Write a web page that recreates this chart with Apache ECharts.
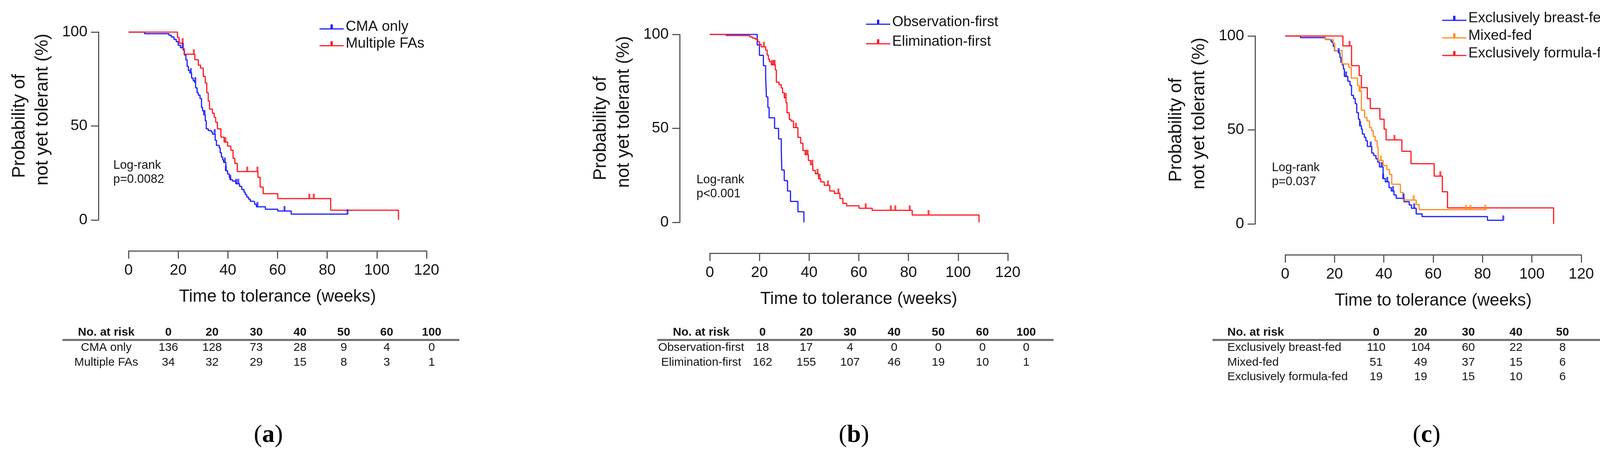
<!DOCTYPE html>
<html lang="en">

<head>
  <meta charset="UTF-8">
  <title>Time to tolerance</title>
  <style>
    html, body { margin: 0; padding: 0; background: #fff; overflow: hidden; }
    #main { width: 4289px; height: 1167px; }
  </style>
</head>

<body>
  <div id="main"></div>

  <script src="https://cdn.jsdelivr.net/npm/echarts@6/dist/echarts.min.js"></script>
  <script>

  // Kaplan-Meier curves: [weeks, % not yet tolerant] at each step
  const cmaOnly = [[0,100],[6.5,99.1],[16.3,98.3],[17.2,97.4],[18.3,96.1],[19.2,94.9],[20.0,93.0],[20.9,91.7],[22.0,90.4],[22.5,87.8],[23.1,85.2],[23.6,81.7],[24.1,79.5],[24.7,78.2],[25.4,75.5],[26.0,74.2],[26.5,73.4],[27.0,70.3],[27.6,67.7],[28.1,66.4],[28.8,64.6],[29.4,59.8],[29.8,58.1],[30.3,55.9],[30.9,52.8],[31.3,48.5],[32.1,47.6],[33.3,46.9],[33.8,45.7],[34.9,42.4],[35.4,39.7],[36.5,38.4],[36.9,35.8],[37.4,33.6],[37.9,31.9],[38.3,30.6],[39.2,26.2],[39.9,24.5],[40.6,22.7],[41.0,21.4],[41.9,20.7],[43.3,19.3],[44.7,17.9],[45.6,16.2],[46.5,14.8],[47.0,13.5],[47.6,12.2],[48.3,11.1],[49.0,10.0],[50.3,9.6],[50.8,8.3],[51.5,7.0],[55.1,5.7],[60.1,4.8],[65.5,3.1],[88.2,3.1]];
  const cmaOnlyCensor = [21.8, 25.1, 26.9, 30.6, 34.7, 38.8, 39.2, 41.0, 43.3, 44.2, 51.9, 62.8, 88.2];

  const multipleFAs = [[0,100],[19.7,97.1],[20.4,94.1],[22.0,91.2],[22.4,88.2],[26.7,85.3],[28.1,82.4],[29.0,80.8],[30.1,76.4],[30.9,72.9],[31.5,67.7],[32.1,63.3],[32.6,59.0],[33.8,56.8],[34.5,54.6],[35.1,52.0],[35.8,48.5],[37.2,44.1],[38.5,41.5],[39.9,39.3],[41.2,37.1],[42.1,32.8],[42.8,30.1],[43.8,25.8],[52.1,22.7],[53.0,17.5],[54.2,14.0],[60.1,11.4],[81.4,5.2],[108.7,5.2],[108.7,0]];
  const multipleFAsCensor = [21.8, 26.3, 39.0, 47.8, 51.9, 72.8, 74.6];

  const obsFirst = [[0,100],[19.1,94.4],[20.0,88.9],[21.6,83.3],[22.5,77.8],[22.8,66.7],[23.4,61.1],[23.9,55.6],[26.1,50.0],[27.7,44.4],[28.8,38.9],[29.0,27.8],[30.0,22.2],[31.3,16.7],[32.5,11.1],[35.5,5.6],[37.9,5.6],[37.9,0]];
  const obsFirstCensor = [];

  const elimFirst = [[0,100],[6.6,99.4],[16.1,98.7],[17.1,98.0],[18.4,97.4],[19.3,96.1],[20.0,94.7],[20.7,93.4],[22.5,91.7],[23.1,89.0],[23.6,86.8],[24.0,85.5],[24.8,83.8],[26.4,81.1],[26.8,74.6],[27.9,73.2],[28.8,71.5],[29.3,68.9],[30.0,66.2],[30.7,63.6],[31.1,58.3],[32.0,54.8],[32.7,53.9],[33.7,50.4],[35.5,45.2],[36.6,42.1],[37.5,38.2],[38.4,36.0],[39.7,32.9],[40.6,30.7],[41.5,27.6],[42.5,25.9],[43.8,23.2],[44.7,21.5],[46.1,19.7],[48.3,16.7],[50.2,15.4],[52.4,12.7],[53.6,10.1],[55.1,8.8],[60.1,7.5],[65.4,6.4],[81.5,3.9],[108.4,3.9],[108.4,0]];
  const elimFirstCensor = [21.8, 25.1, 25.8, 26.1, 30.6, 34.7, 38.9, 39.4, 41.3, 43.4, 44.2, 47.6, 51.8, 62.8, 72.9, 74.7, 80.5, 88.1];

  const breastFed = [[0,100],[6.2,99.1],[16.3,98.2],[18.5,97.3],[19.0,96.4],[19.5,94.5],[20.0,92.1],[21.7,91.0],[22.2,88.6],[22.6,86.0],[23.1,84.6],[23.6,82.5],[24.0,78.5],[25.4,75.9],[26.3,73.7],[26.9,68.4],[27.7,66.7],[28.4,64.0],[29.0,59.2],[29.7,55.7],[30.2,52.2],[30.9,50.4],[31.3,47.8],[32.1,46.1],[32.7,44.3],[33.3,41.2],[35.1,37.7],[35.9,36.4],[36.8,34.6],[37.5,32.9],[38.2,30.3],[39.7,24.1],[40.6,22.4],[42.1,19.3],[43.0,17.5],[44.1,15.4],[45.0,13.6],[48.2,11.8],[50.3,10.1],[51.2,8.3],[53.1,5.3],[55.5,3.9],[82.0,1.9],[88.4,1.9]];
  const breastFedCensor = [21.7, 24.7, 30.4, 34.7, 39.1, 39.7, 41.4, 43.7, 48.0, 52.3, 88.4];

  const mixedFed = [[0,100],[16.3,98.0],[19.5,96.1],[20.1,92.2],[23.1,85.1],[25.8,83.3],[26.8,77.6],[29.3,73.7],[30.0,70.6],[30.9,60.5],[32.2,56.6],[33.2,54.8],[34.2,51.3],[35.0,49.6],[35.7,46.5],[36.5,44.3],[37.3,40.8],[37.7,33.8],[39.7,31.1],[41.2,28.9],[42.3,26.3],[43.2,21.1],[46.7,16.7],[47.8,12.7],[53.1,10.3],[54.3,7.6],[81.6,7.6]];
  const mixedFedCensor = [30.4, 38.8, 52.1, 73.3, 75.1, 81.1];

  const formulaFed = [[0,100],[23.4,94.7],[26.9,84.2],[30.0,78.9],[30.9,72.5],[33.3,66.7],[34.5,61.4],[38.4,55.7],[40.1,50.4],[40.9,44.7],[47.3,38.6],[51.0,32.0],[60.4,25.4],[63.7,17.1],[65.8,8.5],[108.8,8.5],[108.8,0]];
  const formulaFedCensor = [26.1, 44.3, 62.9];

  // numbers at risk
  const riskTimes = [0, 20, 30, 40, 50, 60, 100];
  const riskCmaOnly = [136, 128, 73, 28, 9, 4, 0];
  const riskMultipleFAs = [34, 32, 29, 15, 8, 3, 1];
  const riskObsFirst = [18, 17, 4, 0, 0, 0, 0];
  const riskElimFirst = [162, 155, 107, 46, 19, 10, 1];
  const riskBreastFed = [110, 104, 60, 22, 8, 2, 0];
  const riskMixedFed = [51, 49, 37, 15, 6, 3, 0];
  const riskFormulaFed = [19, 19, 15, 10, 6, 5, 1];

  const logRank = ['p=0.0082', 'p<0.001', 'p=0.037'];
  const captions = ['a', 'b', 'c'];

  const BLUE = '#1f1fff';
  const RED = '#ff1a24';
  const ORANGE = '#ff8c1a';
  const FONT = "'Liberation Sans', Arial, sans-serif";
  const SERIF = "'Liberation Serif', 'Times New Roman', serif";
  const INK = '#141414';
  const AXIS = '#595959';

  const panels = [
    {
      grid: { left: 329, top: 82, width: 763, height: 481 },
      legend: { left: 818, top: 49, gap: 3 },
      log: { x: 290, y: 441 },
      table: { labelX: 272, labelAlign: 'center', cols: [431, 543, 656, 768, 880, 990, 1105], line: [160, 1176] },
      captionX: 687,
      groups: [
        { name: 'CMA only', color: BLUE, curve: cmaOnly, censor: cmaOnlyCensor, risk: riskCmaOnly },
        { name: 'Multiple FAs', color: RED, curve: multipleFAs, censor: multipleFAsCensor, risk: riskMultipleFAs }
      ]
    },
    {
      grid: { left: 1817, top: 88, width: 763, height: 481 },
      legend: { left: 2217, top: 37, gap: 10 },
      log: { x: 1783, y: 478 },
      table: { labelX: 1795, labelAlign: 'center', cols: [1952, 2064, 2176, 2289, 2402, 2515, 2627], line: [1683, 2697] },
      captionX: 2186,
      groups: [
        { name: 'Observation-first', color: BLUE, curve: obsFirst, censor: obsFirstCensor, risk: riskObsFirst },
        { name: 'Elimination-first', color: RED, curve: elimFirst, censor: elimFirstCensor, risk: riskElimFirst }
      ]
    },
    {
      grid: { left: 3290, top: 92, width: 758, height: 481 },
      legend: { left: 3692, top: 27, gap: 5 },
      log: { x: 3256, y: 447 },
      table: { labelX: 3142, labelAlign: 'left', cols: [3523, 3637, 3759, 3881, 4000, 4113, 4219], line: [3104, 4281] },
      captionX: 3652,
      groups: [
        { name: 'Exclusively breast-fed', color: BLUE, curve: breastFed, censor: breastFedCensor, risk: riskBreastFed },
        { name: 'Mixed-fed', color: ORANGE, curve: mixedFed, censor: mixedFedCensor, risk: riskMixedFed },
        { name: 'Exclusively formula-fed', color: RED, curve: formulaFed, censor: formulaFedCensor, risk: riskFormulaFed }
      ]
    }
  ];

  const headerY = 851;
  const ruleY = 870;
  const rowY0 = 890;
  const rowStep = 37.5;
  const captionY = 1114;

  // value of a step curve at time t
  function survAt(curve, t) {
    let s = curve[0][1];
    for (let i = 0; i < curve.length; i++) {
      if (curve[i][0] <= t) s = curve[i][1];
    }
    return s;
  }

  const legendIcon = 'path://M0,10 L62,10 L62,13 L0,13 Z M28,0 L34,0 L34,10 L28,10 Z';

  let grids = [], xAxes = [], yAxes = [], series = [], legends = [], graphics = [];

  panels.forEach((p, i) => {
    grids.push(Object.assign({ containLabel: false }, p.grid));

    xAxes.push({
      gridIndex: i, type: 'value', min: 0, max: 120, interval: 20, offset: 79,
      axisLine: { show: true, onZero: false, lineStyle: { color: AXIS, width: 3 } },
      axisTick: { show: true, length: 20, lineStyle: { color: AXIS, width: 3 } },
      axisLabel: { fontSize: 39, margin: 31, color: INK, fontFamily: FONT },
      splitLine: { show: false },
      name: 'Time to tolerance (weeks)', nameLocation: 'middle', nameGap: 96,
      nameTextStyle: { fontSize: 44, color: INK, fontFamily: FONT }
    });

    yAxes.push({
      gridIndex: i, type: 'value', min: 0, max: 100, interval: 50, offset: 77,
      axisLine: { show: true, onZero: false, lineStyle: { color: AXIS, width: 3 } },
      axisTick: { show: true, length: 19, lineStyle: { color: AXIS, width: 3 } },
      axisLabel: { fontSize: 39, margin: 28, color: INK, fontFamily: FONT },
      splitLine: { show: false }
    });

    p.groups.forEach(g => {
      series.push({
        name: g.name, type: 'line', step: 'end', xAxisIndex: i, yAxisIndex: i,
        data: g.curve, showSymbol: false, symbol: 'none',
        lineStyle: { color: g.color, width: 3 }, itemStyle: { color: g.color }, z: 2
      });
      series.push({
        name: g.name, type: 'scatter', xAxisIndex: i, yAxisIndex: i,
        data: g.censor.map(t => [t, survAt(g.curve, t)]),
        symbol: 'rect', symbolSize: [5, 13], symbolOffset: [0, -6],
        itemStyle: { color: g.color }, z: 3
      });
    });

    legends.push({
      left: p.legend.left, top: p.legend.top, orient: 'vertical', padding: 0,
      icon: legendIcon, itemWidth: 62, itemHeight: 13, itemGap: p.legend.gap,
      selectedMode: false,
      data: p.groups.map(g => g.name),
      textStyle: { fontSize: 37, lineHeight: 40, color: INK, fontFamily: FONT }
    });

    // y axis title, two lines
    let axisX = p.grid.left - 77;
    let midY = p.grid.top + p.grid.height / 2;
    graphics.push({
      type: 'text', x: axisX - 202, y: midY, rotation: Math.PI / 2,
      style: { text: 'Probability of', fontSize: 46, fontFamily: FONT, fill: INK, align: 'center', verticalAlign: 'middle' }
    });
    graphics.push({
      type: 'text', x: axisX - 143, y: midY - 42, rotation: Math.PI / 2,
      style: { text: 'not yet tolerant (%)', fontSize: 46, fontFamily: FONT, fill: INK, align: 'center', verticalAlign: 'middle' }
    });

    // log-rank note
    graphics.push({
      type: 'text', x: p.log.x, y: p.log.y,
      style: { text: 'Log-rank\n' + logRank[i], fontSize: 31, lineHeight: 36, fontFamily: FONT, fill: INK, align: 'left', verticalAlign: 'middle' }
    });

    // number at risk table
    let t = p.table;
    graphics.push({
      type: 'text', x: t.labelX, y: headerY,
      style: { text: 'No. at risk', fontSize: 30, fontWeight: 'bold', fontFamily: FONT, fill: INK, align: t.labelAlign, verticalAlign: 'middle' }
    });
    riskTimes.forEach((rt, k) => {
      graphics.push({
        type: 'text', x: t.cols[k], y: headerY,
        style: { text: String(rt), fontSize: 30, fontWeight: 'bold', fontFamily: FONT, fill: INK, align: 'center', verticalAlign: 'middle' }
      });
    });
    graphics.push({
      type: 'line', shape: { x1: t.line[0], y1: ruleY, x2: t.line[1], y2: ruleY },
      style: { stroke: '#6a6a6a', lineWidth: 5 }
    });
    p.groups.forEach((g, r) => {
      let y = rowY0 + r * rowStep;
      graphics.push({
        type: 'text', x: t.labelX, y: y,
        style: { text: g.name, fontSize: 30, fontFamily: FONT, fill: INK, align: t.labelAlign, verticalAlign: 'middle' }
      });
      g.risk.forEach((v, k) => {
        graphics.push({
          type: 'text', x: t.cols[k], y: y,
          style: { text: String(v), fontSize: 30, fontFamily: FONT, fill: INK, align: 'center', verticalAlign: 'middle' }
        });
      });
    });

    // panel caption
    graphics.push({
      type: 'text', x: p.captionX, y: captionY,
      style: {
        text: '{p|(}{b|' + captions[i] + '}{p|)}', align: 'center', verticalAlign: 'middle',
        rich: {
          p: { fontSize: 64, fontFamily: SERIF, fill: '#000' },
          b: { fontSize: 64, fontFamily: SERIF, fontWeight: 'bold', fill: '#000' }
        }
      }
    });
  });

  let myChart = echarts.init(document.getElementById('main'));
  let option = {
    animation: false,
    backgroundColor: '#fff',
    grid: grids,
    xAxis: xAxes,
    yAxis: yAxes,
    legend: legends,
    series: series,
    graphic: graphics
  };
  myChart.setOption(option);
  </script>
</body>

</html>
